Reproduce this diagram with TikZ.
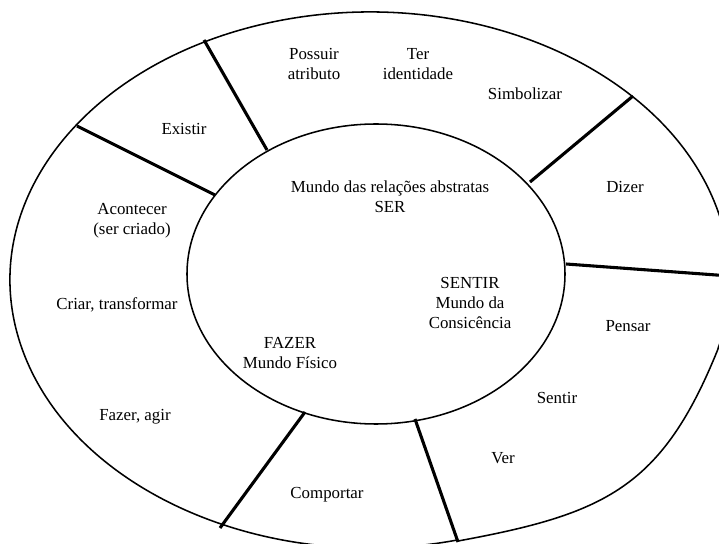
\documentclass[tikz,border=0pt]{standalone}
\usepackage{fontspec}
\setmainfont{Liberation Serif}
\begin{document}
\begin{tikzpicture}[x=0.025cm,y=-0.025cm,
  lbl/.style={align=center,inner sep=0pt,font=\fontsize{12}{14.5}\selectfont},
  sep/.style={line width=2.2pt}]
\useasboundingbox (0,0) rectangle (719,544);
\clip (0,0) rectangle (719,544);
% outer ring, with the bulging lobe at the lower right
\draw[line width=1.1pt] (370,280) ++(76:360 and 268)
  arc[start angle=76,end angle=374.9,x radius=360,y radius=268];
\draw[line width=1.1pt] (718,349) .. controls (662,488) and (605,514) .. (458,541);
\draw[line width=1.1pt] (376,274) ellipse (189 and 150);
%
\draw[sep] (204,40) -- (267,150);
\draw[sep] (77,126) -- (215,195);
\draw[sep] (633,96) -- (530,182);
\draw[sep] (566,264) -- (730,276);
\draw[sep] (415,419) -- (458,542);
\draw[sep] (305,412) -- (220,528);
%
\node[lbl] (possuir) at (314,64) {Possuir\\atributo};
\node[lbl] (ter) at (418,64) {Ter\\identidade};
\node[lbl] (simbolizar) at (525,94) {Simbolizar};
\node[lbl] (existir) at (184,129) {Existir};
\node[lbl] (dizer) at (625,187) {Dizer};
\node[lbl] (ser) at (390,197) {Mundo das relações abstratas\\SER};
\node[lbl] (acontecer) at (132,221) {Acontecer\\(ser criado)};
\node[lbl] (criar) at (117,305) {Criar, transformar};
\node[lbl] (fazer) at (290,353) {FAZER\\Mundo Físico};
\node[lbl] (sentir) at (470,303) {SENTIR\\Mundo da\\Consicência};
\node[lbl] (pensar) at (628,326) {Pensar};
\node[lbl] (sentirv) at (557,398) {Sentir};
\node[lbl] (ver) at (503,458) {Ver};
\node[lbl] (agir) at (135,417) {Fazer, agir};
\node[lbl] (comportar) at (327,495) {Comportar};
\end{tikzpicture}
\end{document}
